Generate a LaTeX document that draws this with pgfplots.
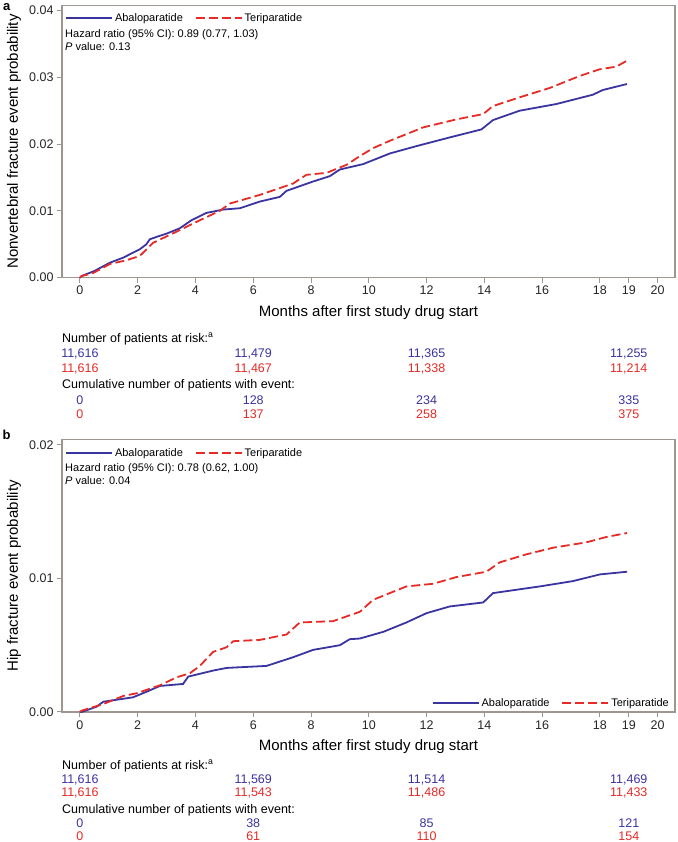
\documentclass[border=0pt]{standalone}
\usepackage{fontspec}
\setmainfont{Liberation Sans}
\usepackage{pgfplots}
\pgfplotsset{compat=1.18}

\definecolor{abablue}{RGB}{58,52,160}
\definecolor{terired}{RGB}{230,42,38}
\definecolor{framecol}{RGB}{160,150,145}

\newcommand{\tabfont}{\fontsize{12.5}{14}\selectfont}
\newcommand{\trow}[6]{%
  \node[text=#2,font=\tabfont] at ([yshift=-#1pt]axis cs:0,0) {#3};
  \node[text=#2,font=\tabfont] at ([yshift=-#1pt]axis cs:6,0) {#4};
  \node[text=#2,font=\tabfont] at ([yshift=-#1pt]axis cs:12,0) {#5};
  \node[text=#2,font=\tabfont] at ([yshift=-#1pt]axis cs:19,0) {#6};
}

\pgfplotsset{
  aba/.style={abablue, line width=1.8pt},
  teri/.style={terired, line width=1.8pt, dash pattern=on 9pt off 4pt},
  km/.style={
    scale only axis, width=613pt, height=272.5pt,
    xmin=-0.62, xmax=20.6, ymin=0,
    xtick={0,2,4,6,8,10,12,14,16,18,19,20},
    tick pos=left, tick align=outside, major tick length=5pt,
    axis line style={framecol, line width=1.3pt},
    every tick/.style={framecol, line width=1pt},
    scaled y ticks=false,
    yticklabel style={/pgf/number format/.cd, fixed, fixed zerofill, precision=2, assume math mode=true},
    xticklabel style={/pgf/number format/assume math mode=true},
    tick label style={font=\fontsize{12.5}{14}\selectfont, text=black!85},
    xlabel={Months after first study drug start},
    xlabel style={font=\fontsize{15}{17}\selectfont, at={(axis description cs:0.5,0)}, anchor=center, yshift=-35pt},
    clip=false,
    legend style={at={(rel axis cs:0,1)}, anchor=north west, xshift=3pt, yshift=-6pt,
      draw=none, fill=none, font=\fontsize{11}{13}\selectfont, inner sep=0pt,
      /tikz/every even column/.append style={column sep=10pt}},
    legend columns=2,
    legend image code/.code={\draw[#1, line width=1.8pt] (0pt,0pt) -- (46pt,0pt);},
  },
}

\begin{document}
\begin{tikzpicture}
\useasboundingbox (0,0) rectangle (677pt,842pt);

% panel a
\begin{axis}[km, at={(62pt,564.3pt)}, anchor=south west,
  ymax=0.0408, ytick={0,0.01,0.02,0.03,0.04}]
\addplot[aba] coordinates {
(0,0) (0.06,0.00025) (0.5,0.0010) (1.04,0.00225) (1.5,0.0030) (2.07,0.00425)
(2.3,0.0050) (2.42,0.00575) (2.65,0.0061) (3.0,0.0066) (3.46,0.0074) (3.86,0.0086)
(4.38,0.0097) (4.96,0.0102) (5.54,0.0104) (6.23,0.0114) (6.92,0.0121) (7.15,0.0130)
(8.07,0.0144) (8.65,0.0152) (9.0,0.0162) (9.8,0.0170) (10.73,0.0186) (11.65,0.0197)
(12.8,0.0210) (13.9,0.0222) (14.3,0.0236) (15.22,0.0250) (16.49,0.0260) (17.76,0.0274)
(18.1,0.0281) (18.94,0.0290)};
\addlegendentry{Abaloparatide}
\addplot[teri] coordinates {
(0,0) (0.06,0.00025) (0.46,0.0007) (1.04,0.00205) (1.6,0.0026) (2.07,0.00325)
(2.54,0.00524) (3.35,0.0069) (4.15,0.0086) (4.84,0.0100) (5.19,0.0111) (6.23,0.0124)
(7.38,0.0141) (7.84,0.0154) (8.54,0.0157) (9.23,0.0169) (9.69,0.0182) (10.15,0.0194)
(10.73,0.0205) (11.88,0.0225) (13.03,0.0237) (13.96,0.0245) (14.3,0.0257) (15.22,0.0270)
(16.26,0.0284) (17.3,0.0302) (17.99,0.0312) (18.57,0.0316) (18.94,0.0325)};
\addlegendentry{Teriparatide}
\node[anchor=north west, align=left, inner sep=0pt, font=\fontsize{11}{13}\selectfont]
  at ([xshift=3pt,yshift=-24pt]rel axis cs:0,1)
  {Hazard ratio (95\% CI): 0.89 (0.77, 1.03)\\\textit{P} value: 0.13};
\node[font=\bfseries\fontsize{13}{15}\selectfont] at ([xshift=-55.3pt,yshift=-1.5pt]rel axis cs:0,1) {a};
\node[rotate=90, font=\fontsize{15}{17}\selectfont] at ([xshift=-48pt]rel axis cs:0,0.5)
  {Nonvertebral fracture event probability};
\node[anchor=west, inner xsep=0pt, font=\tabfont] at ([yshift=-61.3pt]rel axis cs:0,0)
  {Number of patients at risk:\textsuperscript{a}};
\trow{76.3}{abablue}{11,616}{11,479}{11,365}{11,255}
\trow{91.3}{terired}{11,616}{11,467}{11,338}{11,214}
\node[anchor=west, inner xsep=0pt, font=\tabfont] at ([yshift=-107.3pt]rel axis cs:0,0)
  {Cumulative number of patients with event:};
\trow{122.3}{abablue}{0}{128}{234}{335}
\trow{136.3}{terired}{0}{137}{258}{375}
\end{axis}

% panel b
\begin{axis}[km, at={(62pt,130pt)}, anchor=south west,
  ymax=0.0204, ytick={0,0.01,0.02}, legend style={yshift=-0.5pt}]
\addplot[aba] coordinates {
(0,0) (0.06,0) (0.58,0.0004) (0.81,0.00077) (1.84,0.0011) (2.31,0.00152)
(2.77,0.00195) (3.57,0.0021) (3.75,0.00265) (4.61,0.0031) (5.08,0.0033) (6.46,0.00345)
(7.38,0.0041) (8.07,0.00465) (9.0,0.0050) (9.34,0.00545) (9.69,0.0055) (10.5,0.0060)
(11.3,0.0067) (12.0,0.0074) (12.8,0.0079) (13.96,0.0082) (14.3,0.0089) (15.92,0.0094)
(17.07,0.0098) (18.0,0.0103) (18.94,0.0105)};
\addlegendentry{Abaloparatide}
\addplot[teri] coordinates {
(0,0) (0.06,0.0001) (0.81,0.0006) (1.5,0.0012) (1.96,0.0014) (2.77,0.0020)
(3.35,0.0026) (3.81,0.0029) (4.15,0.00345) (4.61,0.0045) (5.08,0.00485) (5.31,0.0053)
(6.23,0.0054) (7.15,0.0058) (7.61,0.0067) (8.76,0.0068) (9.69,0.0075) (10.15,0.0084)
(11.3,0.0094) (12.23,0.0096) (13.03,0.0101) (14.07,0.0105) (14.53,0.0112) (15.45,0.0118)
(16.38,0.0123) (17.53,0.0127) (18.22,0.0131) (18.94,0.0134)};
\addlegendentry{Teriparatide}
\node[anchor=north west, align=left, inner sep=0pt, font=\fontsize{11}{13}\selectfont]
  at ([xshift=3pt,yshift=-24pt]rel axis cs:0,1)
  {Hazard ratio (95\% CI): 0.78 (0.62, 1.00)\\\textit{P} value: 0.04};
\node[font=\bfseries\fontsize{13}{15}\selectfont] at ([xshift=-55.3pt,yshift=4.5pt]rel axis cs:0,1) {b};
\node[rotate=90, font=\fontsize{15}{17}\selectfont] at ([xshift=-48pt]rel axis cs:0,0.5)
  {Hip fracture event probability};
\node[anchor=west, inner xsep=0pt, font=\tabfont] at ([yshift=-54pt]rel axis cs:0,0)
  {Number of patients at risk:\textsuperscript{a}};
\trow{68}{abablue}{11,616}{11,569}{11,514}{11,469}
\trow{81}{terired}{11,616}{11,543}{11,486}{11,433}
\node[anchor=west, inner xsep=0pt, font=\tabfont] at ([yshift=-98pt]rel axis cs:0,0)
  {Cumulative number of patients with event:};
\trow{111}{abablue}{0}{38}{85}{121}
\trow{124}{terired}{0}{61}{110}{154}
\end{axis}

% second legend of panel b
\begin{axis}[at={(62pt,130pt)}, anchor=south west, scale only axis,
  width=613pt, height=272.5pt, hide axis, xmin=0, xmax=1, ymin=0, ymax=1,
  legend style={at={(rel axis cs:1,0)}, anchor=south east, xshift=-4pt, yshift=2pt,
    draw=none, fill=none, font=\fontsize{11}{13}\selectfont, inner sep=0pt,
    /tikz/every even column/.append style={column sep=10pt}},
  legend columns=2,
  legend image code/.code={\draw[#1, line width=1.8pt] (0pt,0pt) -- (46pt,0pt);}]
\addlegendimage{aba}\addlegendentry{Abaloparatide}
\addlegendimage{teri}\addlegendentry{Teriparatide}
\end{axis}
\end{tikzpicture}
\end{document}
